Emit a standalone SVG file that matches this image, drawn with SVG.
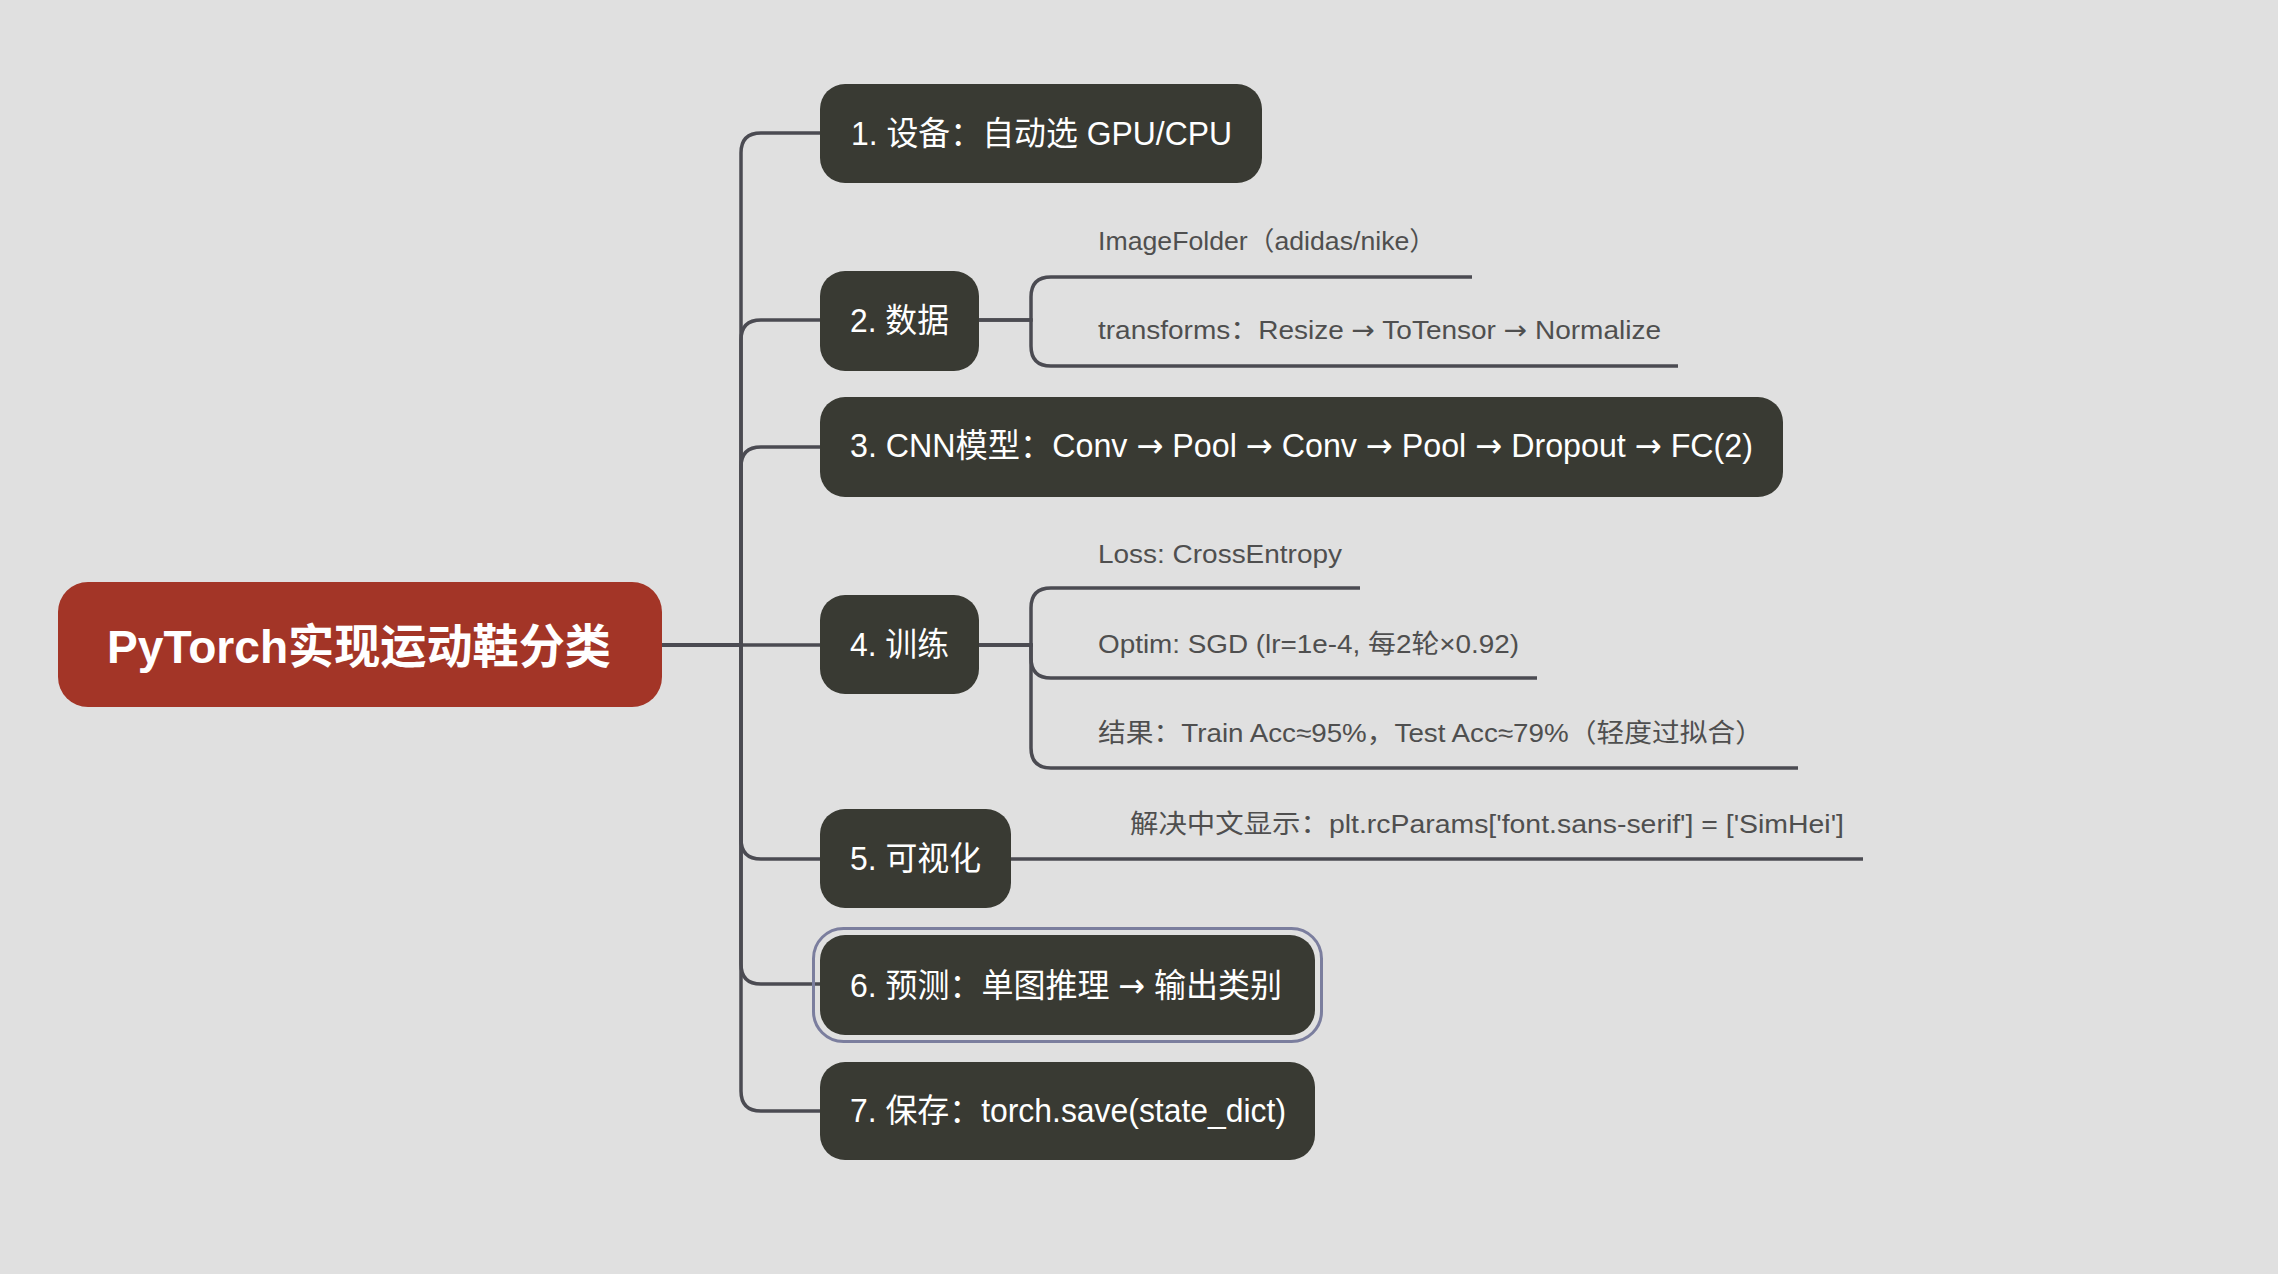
<svg xmlns="http://www.w3.org/2000/svg" width="2278" height="1274" viewBox="0 0 2278 1274">
<style>
.bg{fill:#e0e0e0}
.node{fill:#393a33}
.root{fill:#a33527}
.conn{fill:none;stroke:#4b4b52;stroke-width:3.5;stroke-linecap:butt}
.nt{font-family:"Liberation Sans","Noto Sans CJK SC",sans-serif;font-size:33px;fill:#ffffff}
.rt{font-family:"Liberation Sans","Noto Sans CJK SC",sans-serif;font-size:47px;font-weight:bold;fill:#ffffff}
.ct{font-family:"Liberation Sans","Noto Sans CJK SC",sans-serif;font-size:26px;fill:#4f4f4f}
.ar{font-family:"DejaVu Sans",sans-serif}
.hl{fill:none;stroke:#7b7e9e;stroke-width:3}
</style>
<rect class="bg" x="0" y="0" width="2278" height="1274"/>
<g id="connectors">
  <path class="conn" d="M662 645 H741 V153 Q741 133 761 133 H820"/>
  <path class="conn" d="M662 645 H741 V340 Q741 320 761 320 H820"/>
  <path class="conn" d="M662 645 H741 V467 Q741 447 761 447 H820"/>
  <path class="conn" d="M662 645 H820"/>
  <path class="conn" d="M662 645 H741 V839 Q741 859 761 859 H820"/>
  <path class="conn" d="M662 645 H741 V964 Q741 984 761 984 H820"/>
  <path class="conn" d="M662 645 H741 V1091 Q741 1111 761 1111 H820"/>
  <path class="conn" d="M979 320 H1031 V297 Q1031 277 1051 277 H1472"/>
  <path class="conn" d="M979 320 H1031 V346 Q1031 366 1051 366 H1678"/>
  <path class="conn" d="M979 645 H1031 V608 Q1031 588 1051 588 H1360"/>
  <path class="conn" d="M979 645 H1031 V658 Q1031 678 1051 678 H1537"/>
  <path class="conn" d="M979 645 H1031 V748 Q1031 768 1051 768 H1798"/>
  <path class="conn" d="M1011 859 H1863"/>
</g>
<g id="root">
  <rect class="root" x="58" y="582" width="604" height="125" rx="30"/>
  <text class="rt" x="107" y="663" textLength="504" lengthAdjust="spacingAndGlyphs">PyTorch实现运动鞋分类</text>
</g>
<g id="node1">
  <rect class="node" x="820" y="84" width="442" height="99" rx="25"/>
  <text class="nt" x="851" y="145" textLength="381" lengthAdjust="spacingAndGlyphs">1. 设备：自动选 GPU/CPU</text>
</g>
<g id="node2">
  <rect class="node" x="820" y="271" width="159" height="100" rx="25"/>
  <text class="nt" x="850" y="332" textLength="99" lengthAdjust="spacingAndGlyphs">2. 数据</text>
</g>
<g id="node2-child1">
  <text class="ct" x="1098" y="250" textLength="338" lengthAdjust="spacingAndGlyphs">ImageFolder（adidas/nike）</text>
</g>
<g id="node2-child2">
  <text class="ct" x="1098" y="339" textLength="563" lengthAdjust="spacingAndGlyphs">transforms：Resize <tspan class="ar">→</tspan> ToTensor <tspan class="ar">→</tspan> Normalize</text>
</g>
<g id="node3">
  <rect class="node" x="820" y="397" width="963" height="100" rx="25"/>
  <text class="nt" x="850" y="457" textLength="903" lengthAdjust="spacingAndGlyphs">3. CNN模型：Conv <tspan class="ar">→</tspan> Pool <tspan class="ar">→</tspan> Conv <tspan class="ar">→</tspan> Pool <tspan class="ar">→</tspan> Dropout <tspan class="ar">→</tspan> FC(2)</text>
</g>
<g id="node4">
  <rect class="node" x="820" y="595" width="159" height="99" rx="25"/>
  <text class="nt" x="850" y="656" textLength="99" lengthAdjust="spacingAndGlyphs">4. 训练</text>
</g>
<g id="node4-child1">
  <text class="ct" x="1098" y="563" textLength="244" lengthAdjust="spacingAndGlyphs">Loss: CrossEntropy</text>
</g>
<g id="node4-child2">
  <text class="ct" x="1098" y="653" textLength="421" lengthAdjust="spacingAndGlyphs">Optim: SGD (lr=1e-4, 每2轮×0.92)</text>
</g>
<g id="node4-child3">
  <text class="ct" x="1098" y="742" textLength="665" lengthAdjust="spacingAndGlyphs">结果：Train Acc≈95%，Test Acc≈79%（轻度过拟合）</text>
</g>
<g id="node5">
  <rect class="node" x="820" y="809" width="191" height="99" rx="25"/>
  <text class="nt" x="850" y="870" textLength="131" lengthAdjust="spacingAndGlyphs">5. 可视化</text>
</g>
<g id="node5-child1">
  <text class="ct" x="1130" y="833" textLength="714" lengthAdjust="spacingAndGlyphs">解决中文显示：plt.rcParams['font.sans-serif'] = ['SimHei']</text>
</g>
<g id="node6">
  <rect class="hl" x="813.5" y="928.5" width="508" height="113" rx="30"/>
  <rect class="node" x="820" y="935" width="495" height="100" rx="25"/>
  <text class="nt" x="850" y="997" textLength="432" lengthAdjust="spacingAndGlyphs">6. 预测：单图推理 <tspan class="ar">→</tspan> 输出类别</text>
</g>
<g id="node7">
  <rect class="node" x="820" y="1062" width="495" height="98" rx="25"/>
  <text class="nt" x="850" y="1122" textLength="436" lengthAdjust="spacingAndGlyphs">7. 保存：torch.save(state_dict)</text>
</g>
</svg>
